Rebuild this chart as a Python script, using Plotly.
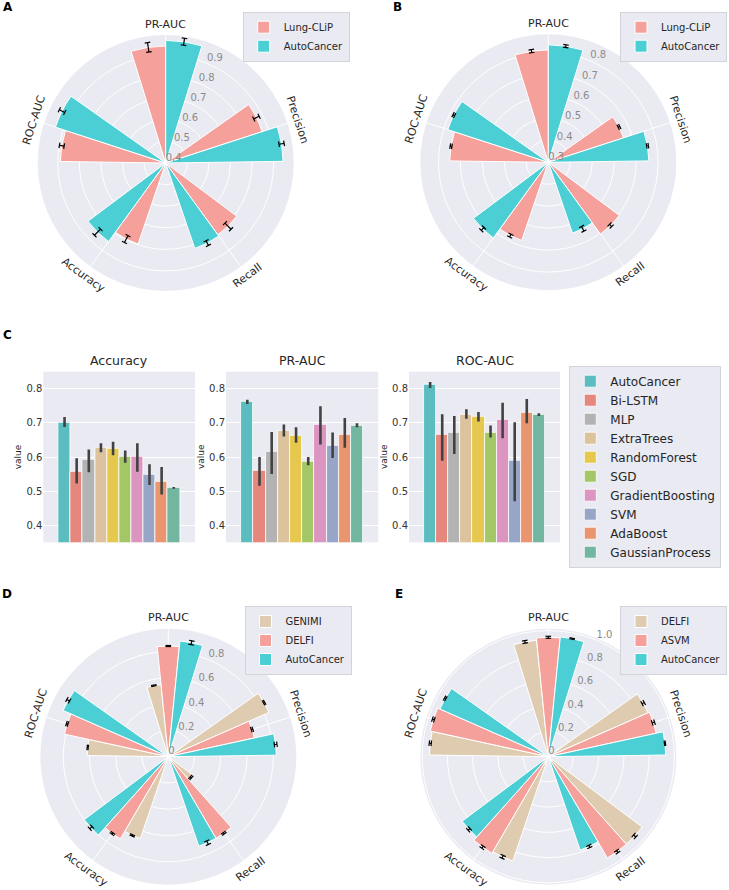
import math
import plotly.graph_objects as go

W, H = 729, 890
FONT = "DejaVu Sans"

# ---------------- data ----------------
metrics = ["PR-AUC", "Precision", "Recall", "Accuracy", "ROC-AUC"]

# Panel A
a_lungclip = [0.942, 0.870, 0.811, 0.797, 0.888]
a_lungclip_err = [0.022, 0.014, 0.020, 0.018, 0.011]
a_autocancer = [0.968, 0.944, 0.818, 0.850, 0.937]
a_autocancer_err = [0.016, 0.012, 0.012, 0.020, 0.014]

# Panel B
b_lungclip = [0.812, 0.660, 0.704, 0.676, 0.749]
b_lungclip_err = [0.007, 0.004, 0.007, 0.007, 0.004]
b_autocancer = [0.835, 0.758, 0.641, 0.726, 0.781]
b_autocancer_err = [0.006, 0.004, 0.012, 0.009, 0.004]

# Panel D
d_genimi = [0.553, 0.838, 0.233, 0.659, 0.618]
d_genimi_err = [0.004, 0.005, 0.006, 0.005, 0.004]
d_delfi = [0.843, 0.671, 0.720, 0.724, 0.810]
d_delfi_err = [0.004, 0.006, 0.006, 0.006, 0.006]
d_autocancer = [0.886, 0.823, 0.720, 0.800, 0.875]
d_autocancer_err = [0.015, 0.010, 0.015, 0.012, 0.012]

# Panel E
e_delfi = [0.929, 0.864, 0.930, 0.873, 0.942]
e_delfi_err = [0.010, 0.010, 0.012, 0.012, 0.008]
e_asvm = [0.947, 0.876, 0.930, 0.887, 0.958]
e_asvm_err = [0.008, 0.010, 0.010, 0.010, 0.008]
e_autocancer = [0.955, 0.931, 0.782, 0.853, 0.939]
e_autocancer_err = [0.004, 0.004, 0.010, 0.010, 0.006]

# radial tick labels
a_rticks = [0.4, 0.5, 0.6, 0.7, 0.8, 0.9]
a_rticktext = ["0.4", "0.5", "0.6", "0.7", "0.8", "0.9"]
b_rticks = [0.3, 0.4, 0.5, 0.6, 0.7, 0.8]
b_rticktext = ["0.3", "0.4", "0.5", "0.6", "0.7", "0.8"]
d_rticks = [0, 0.2, 0.4, 0.6, 0.8]
d_rticktext = ["0", "0.2", "0.4", "0.6", "0.8"]
e_rticks = [0, 0.2, 0.4, 0.6, 0.8, 1.0]
e_rticktext = ["0", "0.2", "0.4", "0.6", "0.8", "1.0"]

# Panel C
models = ["AutoCancer", "Bi-LSTM", "MLP", "ExtraTrees", "RandomForest", "SGD",
          "GradientBoosting", "SVM", "AdaBoost", "GaussianProcess"]
acc_mean = [0.702, 0.558, 0.592, 0.628, 0.625, 0.600, 0.601, 0.548, 0.528, 0.509]
acc_lo = [0.688, 0.522, 0.555, 0.614, 0.605, 0.583, 0.557, 0.518, 0.490, 0.507]
acc_hi = [0.717, 0.596, 0.622, 0.640, 0.645, 0.619, 0.640, 0.579, 0.571, 0.512]
pr_mean = [0.761, 0.560, 0.616, 0.677, 0.663, 0.587, 0.694, 0.634, 0.666, 0.693]
pr_lo = [0.755, 0.516, 0.550, 0.660, 0.642, 0.576, 0.637, 0.597, 0.627, 0.687]
pr_hi = [0.768, 0.600, 0.673, 0.695, 0.687, 0.600, 0.749, 0.672, 0.714, 0.699]
roc_mean = [0.811, 0.665, 0.672, 0.723, 0.717, 0.671, 0.708, 0.589, 0.729, 0.723]
roc_lo = [0.802, 0.589, 0.609, 0.712, 0.704, 0.657, 0.655, 0.470, 0.699, 0.720]
roc_hi = [0.820, 0.725, 0.720, 0.740, 0.732, 0.692, 0.759, 0.702, 0.770, 0.728]
c_yticks = [0.4, 0.5, 0.6, 0.7, 0.8]

model_colors = ["#5bbdc0", "#e6877e", "#b3b3b3", "#dcc39e", "#e5c84d", "#a3c766",
                "#dc94c0", "#97a5c6", "#e9956f", "#72b6a0"]

SALMON = "#f5a09b"
TEAL = "#4ccfd4"
TAN = "#dfccb0"
BG = "#eaeaf2"
RLABEL_THETA = 22.5  # radial label direction, clockwise from top

fig = go.Figure()
annotations = []


def px_domain(cx, cy, r):
    return ([(cx - r) / W, (cx + r) / W], [1 - (cy + r) / H, 1 - (cy - r) / H])


def polar_panel(pid, legend_id, center, series, rrange, rticks, rticktext):
    cx, cy = center
    R = 128
    dx, dy = px_domain(cx, cy, R)
    n = len(series)
    total = 34.38
    width = total / n
    cat_theta = [72 * i for i in range(len(metrics))]
    for i, (label, vals, errs, color) in enumerate(series):
        off = (i - (n - 1) / 2) * width
        th = [t + off for t in cat_theta]
        fig.add_trace(go.Barpolar(
            r=vals, theta=th, width=[width] * len(vals), name=label,
            marker=dict(color=color, line=dict(color="white", width=1)),
            subplot=pid, legend=legend_id, hoverinfo="skip"))
    # radial tick labels (matplotlib-style, beside the 67.5 deg direction)
    fig.add_trace(go.Scatterpolar(
        r=rticks, theta=[RLABEL_THETA] * len(rticks), mode="text", text=rticktext,
        textposition="top right", subplot=pid, showlegend=False,
        textfont=dict(size=10, color="#8a8a8a", family=FONT), hoverinfo="skip"))
    for i, (label, vals, errs, color) in enumerate(series):
        off = (i - (n - 1) / 2) * width
        rr, tt, ang = [], [], []
        for t, v, e in zip(cat_theta, vals, errs):
            rr += [v - e, v + e, None]
            tt += [t + off, t + off, None]
            ang += [t + off, t + off, 0]
        fig.add_trace(go.Scatterpolar(
            r=rr, theta=tt, mode="lines+markers", subplot=pid, showlegend=False,
            line=dict(color="black", width=1.2),
            marker=dict(symbol="line-ew", size=4, angle=ang,
                        line=dict(color="black", width=1.2)),
            hoverinfo="skip"))
    fig.update_layout(**{pid: dict(
        domain=dict(x=dx, y=dy), bgcolor=BG, barmode="overlay",
        radialaxis=dict(range=rrange, tickvals=rticks, showticklabels=False,
                        showline=False, ticks="", gridcolor="white", gridwidth=1,
                        layer="below traces"),
        angularaxis=dict(rotation=90, direction="clockwise", tickmode="array",
                         tickvals=cat_theta, showticklabels=False, ticks="",
                         showline=False, gridcolor="white", gridwidth=1.2,
                         layer="below traces"),
    )})
    # angular category labels, rotated tangentially
    for t, m in zip(cat_theta, metrics):
        phi = 90 - t
        Rl = R + 11
        x = (cx + Rl * math.cos(math.radians(phi))) / W
        y = 1 - (cy - Rl * math.sin(math.radians(phi))) / H
        ta = 90 - phi
        while ta > 90:
            ta -= 180
        while ta <= -90:
            ta += 180
        annotations.append(dict(text=m, x=x, y=y, xref="paper", yref="paper",
                                showarrow=False, textangle=ta,
                                xanchor="center", yanchor="middle",
                                font=dict(size=11, color="#262626", family=FONT)))


polar_panel("polar", "legend", (165.7, 163.0),
            [("Lung-CLiP", a_lungclip, a_lungclip_err, SALMON),
             ("AutoCancer", a_autocancer, a_autocancer_err, TEAL)],
            [0.4, 0.993], a_rticks, a_rticktext)
polar_panel("polar2", "legend2", (548.3, 162.3),
            [("Lung-CLiP", b_lungclip, b_lungclip_err, SALMON),
             ("AutoCancer", b_autocancer, b_autocancer_err, TEAL)],
            [0.3, 0.883], b_rticks, b_rticktext)
polar_panel("polar3", "legend4", (168.3, 756.7),
            [("GENIMI", d_genimi, d_genimi_err, TAN),
             ("DELFI", d_delfi, d_delfi_err, SALMON),
             ("AutoCancer", d_autocancer, d_autocancer_err, TEAL)],
            [0, 0.975], d_rticks, d_rticktext)
polar_panel("polar4", "legend5", (548.3, 756.7),
            [("DELFI", e_delfi, e_delfi_err, TAN),
             ("ASVM", e_asvm, e_asvm_err, SALMON),
             ("AutoCancer", e_autocancer, e_autocancer_err, TEAL)],
            [0, 1.015], e_rticks, e_rticktext)

# ---------------- panel C ----------------
bar_sets = [("Accuracy", acc_mean, acc_lo, acc_hi),
            ("PR-AUC", pr_mean, pr_lo, pr_hi),
            ("ROC-AUC", roc_mean, roc_lo, roc_hi)]
x_domains = [[43.3 / W, 195 / W], [226 / W, 378.3 / W], [409 / W, 560 / W]]
y_domain = [1 - 542.3 / H, 1 - 371.7 / H]

for k, (title, mean, lo, hi) in enumerate(bar_sets):
    xa = "x" if k == 0 else f"x{k+1}"
    ya = "y" if k == 0 else f"y{k+1}"
    for i, m in enumerate(models):
        fig.add_trace(go.Bar(
            x=[m], y=[mean[i]], name=m, xaxis=xa, yaxis=ya,
            legend="legend3", showlegend=(k == 0),
            marker=dict(color=model_colors[i], line=dict(color="white", width=0.8)),
            error_y=dict(type="data", symmetric=False, array=[hi[i] - mean[i]],
                         arrayminus=[mean[i] - lo[i]], color="#424242",
                         thickness=2.6, width=0),
            hoverinfo="skip"))
    xkey = "xaxis" if k == 0 else f"xaxis{k+1}"
    ykey = "yaxis" if k == 0 else f"yaxis{k+1}"
    fig.update_layout(**{
        xkey: dict(domain=x_domains[k], anchor=ya, type="category",
                   categoryorder="array", categoryarray=models,
                   range=[-1.75, len(models) + 0.75], showticklabels=False,
                   showgrid=False, zeroline=False, ticks=""),
        ykey: dict(domain=y_domain, anchor=xa, range=[0.35, 0.85],
                   tickvals=c_yticks, gridcolor="white",
                   gridwidth=1.2, zeroline=False, ticks="",
                   tickfont=dict(size=10, color="#333333", family=FONT)),
    })
    annotations.append(dict(text=title, xref=f"{xa} domain", yref=f"{ya} domain",
                            x=0.5, y=1.0, yshift=2, xanchor="center", yanchor="bottom",
                            showarrow=False,
                            font=dict(size=12.5, color="#262626", family=FONT)))
    annotations.append(dict(text="value", xref=f"{xa} domain", yref=f"{ya} domain",
                            x=0, y=0.5, xshift=-25, xanchor="center", yanchor="middle",
                            textangle=-90, showarrow=False,
                            font=dict(size=9, color="#262626", family=FONT)))

# panel letters
for letter, (lx, ly) in {"A": (8, 7), "B": (397, 7), "C": (7, 335),
                         "D": (7, 594), "E": (399, 594)}.items():
    annotations.append(dict(text=f"<b>{letter}</b>", x=lx / W, y=1 - ly / H,
                            xref="paper", yref="paper", showarrow=False,
                            xanchor="center", yanchor="middle",
                            font=dict(size=12, color="black", family=FONT)))

legend_style = dict(bgcolor=BG, bordercolor="#d3d3da", borderwidth=1,
                    yanchor="top", xref="container", yref="container",
                    font=dict(size=10, color="#262626", family=FONT))

fig.update_layout(
    width=W, height=H, autosize=False, margin=dict(l=0, r=0, t=0, b=0, autoexpand=False),
    paper_bgcolor="white", plot_bgcolor=BG,
    barmode="overlay", bargap=0,
    font=dict(family=FONT, color="#262626"),
    annotations=annotations,
    legend=dict(x=296.2 / W, xanchor="center", y=1 - 11.7 / H, **legend_style),
    legend2=dict(x=727 / W, xanchor="right", y=1 - 11.7 / H, **legend_style),
    legend4=dict(x=298 / W, xanchor="center", y=1 - 606 / H, **legend_style),
    legend5=dict(x=727 / W, xanchor="right", y=1 - 606 / H, **legend_style),
    legend3=dict(x=569.3 / W, y=1 - 365.7 / H, bgcolor=BG, bordercolor="#d3d3da",
                 borderwidth=1, xanchor="left", yanchor="top",
                 xref="container", yref="container",
                 font=dict(size=12, color="#262626", family=FONT)),
)

fig.write_html("out.html",
               config={"responsive": False, "displayModeBar": False},
               post_script="document.body.style.margin='0px';"
                           "document.body.style.overflow='hidden';")
